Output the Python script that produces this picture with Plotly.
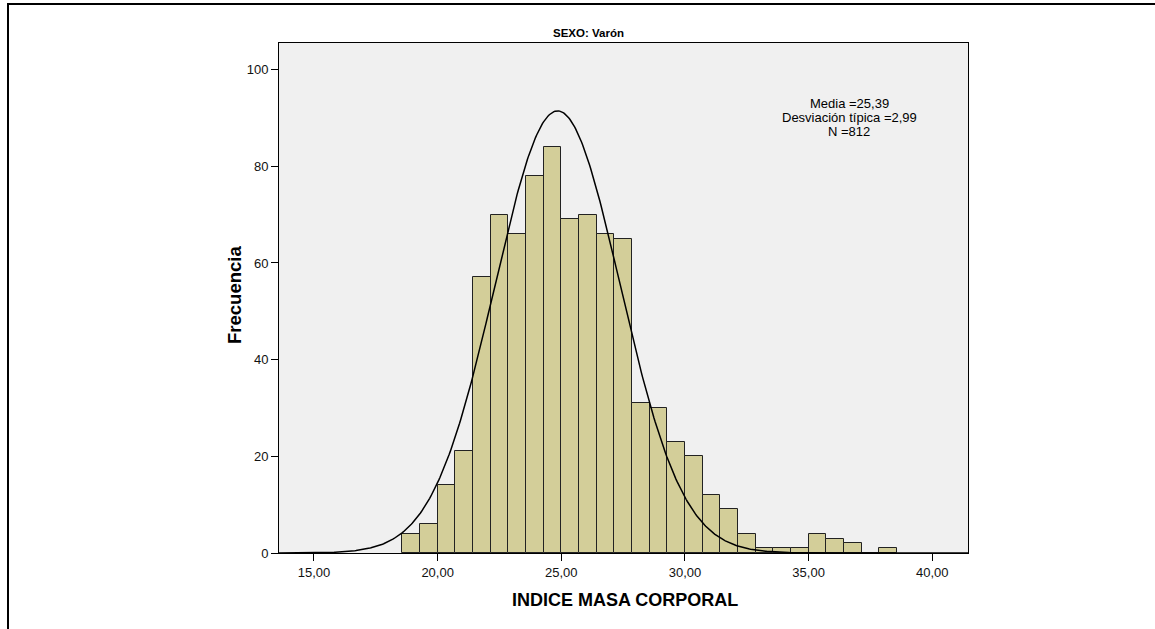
import numpy as np
import plotly.graph_objects as go

# Histogram of body-mass index for men
bin_start = 18.5714
bin_width = 5 / 7
counts = [4, 6, 14, 21, 57, 70, 66, 78, 84, 69, 70, 66, 65, 31, 30,
          23, 20, 12, 9, 4, 1, 1, 1, 4, 3, 2, 0, 1]

# Summary statistics shown in the box
stat_mean = 25.39
stat_sd = 2.99
stat_n = 812

# Fitted normal curve parameters
curve_mean = 24.85
curve_sd = 2.53

x_ticks = [15, 20, 25, 30, 35, 40]
y_ticks = [0, 20, 40, 60, 80, 100]
x_range = [13.585, 41.445]
y_range = [0, 105.5]

W, H = 1155, 629
L, R, T, B = 279, 187, 43, 76
PW, PH = W - L - R, H - T - B


def px_x(p):
    return (p - L) / PW


def px_y(p):
    return (H - B - p) / PH


centers = bin_start + bin_width * (np.arange(len(counts)) + 0.5)

xc = np.linspace(x_range[0], x_range[1], 600)
yc = stat_n * bin_width / (curve_sd * np.sqrt(2 * np.pi)) * np.exp(-0.5 * ((xc - curve_mean) / curve_sd) ** 2)

fig = go.Figure()
fig.add_trace(go.Bar(
    x=centers, y=counts, width=bin_width,
    marker=dict(color="rgb(211,206,153)", line=dict(color="#222222", width=1)),
    hoverinfo="x+y",
))
fig.add_trace(go.Scatter(
    x=xc, y=yc, mode="lines",
    line=dict(color="black", width=1.5),
    hoverinfo="skip",
))

font = "Liberation Sans, Arial, sans-serif"

fig.update_layout(
    width=W, height=H,
    margin=dict(l=L, r=R, t=T, b=B, pad=0),
    paper_bgcolor="white",
    plot_bgcolor="#F0F0F0",
    showlegend=False,
    separators=",.",
    bargap=0,
    font=dict(family=font, size=12, color="black"),
)

fig.update_xaxes(
    range=x_range, tickvals=x_ticks, tickformat=".2f",
    ticks="outside", ticklen=7, tickwidth=1, tickcolor="black",
    showline=True, linecolor="black", linewidth=1, mirror=True,
    showgrid=False, zeroline=False,
    tickfont=dict(family=font, size=13, color="#111111"),
)
fig.update_yaxes(
    range=y_range, tickvals=y_ticks,
    ticks="outside", ticklen=7, tickwidth=1, tickcolor="black",
    showline=True, linecolor="black", linewidth=1, mirror=True,
    showgrid=False, zeroline=False,
    tickfont=dict(family=font, size=13, color="#111111"),
)

stats_lines = [
    f"Media ={stat_mean:.2f}".replace(".", ","),
    f"Desviación típica ={stat_sd:.2f}".replace(".", ","),
    f"N ={stat_n}",
]

annotations = [
    dict(text="<b>SEXO: Varón</b>", x=px_x(588), y=px_y(33), xref="paper", yref="paper",
         showarrow=False, xanchor="center", yanchor="middle",
         font=dict(family=font, size=11.5, color="black")),
    dict(text="<b>INDICE MASA CORPORAL</b>", x=px_x(625), y=px_y(600), xref="paper", yref="paper",
         showarrow=False, xanchor="center", yanchor="middle",
         font=dict(family=font, size=18, color="black")),
    dict(text="<b>Frecuencia</b>", x=px_x(234), y=px_y(295), xref="paper", yref="paper",
         showarrow=False, xanchor="center", yanchor="middle", textangle=-90,
         font=dict(family=font, size=18.5, color="black")),
]
for i, line in enumerate(stats_lines):
    annotations.append(dict(
        text=line, x=px_x(849), y=px_y(103 + 14 * i), xref="paper", yref="paper",
        showarrow=False, xanchor="center", yanchor="middle",
        font=dict(family=font, size=13, color="black")))
fig.update_layout(annotations=annotations)

# Outer frame lines (left and top edges)
fig.update_layout(shapes=[
    dict(type="line", xref="paper", yref="paper",
         x0=px_x(8), x1=px_x(8), y0=px_y(640), y1=px_y(3),
         line=dict(color="black", width=2)),
    dict(type="line", xref="paper", yref="paper",
         x0=px_x(7), x1=px_x(1170), y0=px_y(4), y1=px_y(4),
         line=dict(color="black", width=2)),
])

fig.write_html("out.html", config=dict(displayModeBar=False))
